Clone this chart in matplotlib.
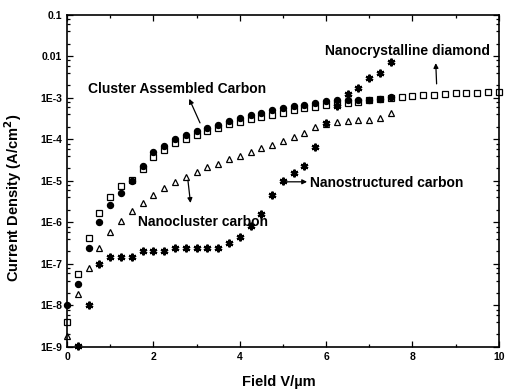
import matplotlib.pyplot as plt
from matplotlib.ticker import FixedLocator, MultipleLocator, LogLocator, NullFormatter
import numpy as np

# field in V/um, current density given as log10(A/cm^2)
x_square = [0, 0.25, 0.5, 0.75, 1.0, 1.25, 1.5, 1.75, 2.0, 2.25, 2.5, 2.75, 3.0, 3.25, 3.5,
            3.75, 4.0, 4.25, 4.5, 4.75, 5.0, 5.25, 5.5, 5.75, 6.0, 6.25, 6.5, 6.75, 7.0, 7.25,
            7.5, 7.75, 8.0, 8.25, 8.5, 8.75, 9.0, 9.25, 9.5, 9.75, 10.0]
log_square = [-8.4, -7.25, -6.37, -5.76, -5.38, -5.12, -4.98, -4.7, -4.43, -4.25, -4.08, -3.98,
              -3.88, -3.8, -3.72, -3.63, -3.57, -3.51, -3.46, -3.41, -3.35, -3.29, -3.25, -3.21,
              -3.17, -3.13, -3.11, -3.09, -3.06, -3.03, -3.0, -2.97, -2.95, -2.93, -2.92, -2.9,
              -2.89, -2.88, -2.87, -2.86, -2.85]

x_circle = [0, 0.25, 0.5, 0.75, 1.0, 1.25, 1.5, 1.75, 2.0, 2.25, 2.5, 2.75, 3.0, 3.25, 3.5,
            3.75, 4.0, 4.25, 4.5, 4.75, 5.0, 5.25, 5.5, 5.75, 6.0, 6.25, 6.5, 6.75, 7.0, 7.25, 7.5]
log_circle = [-8.0, -7.48, -6.62, -6.0, -5.59, -5.28, -4.99, -4.64, -4.3, -4.15, -4.0, -3.9,
              -3.8, -3.72, -3.64, -3.55, -3.48, -3.42, -3.36, -3.3, -3.25, -3.2, -3.16, -3.12,
              -3.08, -3.06, -3.05, -3.04, -3.04, -3.02, -2.97]

x_triangle = [0, 0.25, 0.5, 0.75, 1.0, 1.25, 1.5, 1.75, 2.0, 2.25, 2.5, 2.75, 3.0, 3.25, 3.5,
              3.75, 4.0, 4.25, 4.5, 4.75, 5.0, 5.25, 5.5, 5.75, 6.0, 6.25, 6.5, 6.75, 7.0, 7.25, 7.5]
log_triangle = [-8.73, -7.73, -7.1, -6.61, -6.24, -5.96, -5.72, -5.52, -5.34, -5.18, -5.03, -4.91,
                -4.79, -4.67, -4.58, -4.48, -4.39, -4.29, -4.21, -4.13, -4.03, -3.93, -3.85, -3.7,
                -3.62, -3.58, -3.55, -3.53, -3.52, -3.49, -3.36]

x_star = [0.25, 0.5, 0.75, 1.0, 1.25, 1.5, 1.75, 2.0, 2.25, 2.5, 2.75, 3.0, 3.25, 3.5, 3.75,
          4.0, 4.25, 4.5, 4.75, 5.0, 5.25, 5.5, 5.75, 6.0, 6.25, 6.5, 6.75, 7.0, 7.25, 7.5]
log_star = [-8.97, -8.0, -7.0, -6.82, -6.82, -6.82, -6.69, -6.69, -6.69, -6.62, -6.62, -6.62,
            -6.62, -6.62, -6.5, -6.34, -6.08, -5.8, -5.34, -4.99, -4.8, -4.64, -4.19, -3.61,
            -3.2, -2.9, -2.75, -2.53, -2.4, -2.13]

y_ticks = [1e-9, 1e-8, 1e-7, 1e-6, 1e-5, 1e-4, 1e-3, 1e-2, 1e-1]
y_tick_labels = ["1E-9", "1E-8", "1E-7", "1E-6", "1E-5", "1E-4", "1E-3", "0.01", "0.1"]
x_ticks = [0, 2, 4, 6, 8, 10]

plt.rcParams['font.family'] = ['Liberation Sans', 'DejaVu Sans']

fig = plt.figure(figsize=(5.05, 3.89), dpi=100)
ax = fig.add_axes([0.1327, 0.108, 0.855, 0.8535])

ax.plot(x_square, 10 ** np.array(log_square), 's', mfc='white', mec='black', ms=4.2, mew=0.9, clip_on=False)
ax.plot(x_circle, 10 ** np.array(log_circle), 'o', color='black', ms=4.3, clip_on=False)
ax.plot(x_triangle, 10 ** np.array(log_triangle), '^', mfc='white', mec='black', ms=5, mew=0.9, clip_on=False)
ax.plot(x_star, 10 ** np.array(log_star), marker=(6, 2, 0), ls='none', color='black', ms=5.5, mew=1.6, clip_on=False)

ax.set_yscale('log')
ax.set_xlim(0, 10)
ax.set_ylim(1e-9, 0.1)
ax.yaxis.set_major_locator(FixedLocator(y_ticks))
ax.set_yticklabels(y_tick_labels)
ax.yaxis.set_minor_locator(LogLocator(base=10, subs=(2, 4, 6, 8)))
ax.yaxis.set_minor_formatter(NullFormatter())
ax.set_xticks(x_ticks)
ax.xaxis.set_minor_locator(MultipleLocator(1))

ax.tick_params(which='both', direction='in', top=True, right=True, labelsize=7.5, width=0.9)
ax.tick_params(which='major', length=4)
ax.tick_params(which='minor', length=2.5)
for lbl in ax.get_xticklabels() + ax.get_yticklabels():
    lbl.set_fontweight('bold')
for s in ax.spines.values():
    s.set_linewidth(1.2)

ax.set_xlabel("Field V/\u00b5m", fontsize=10.5, fontweight='bold')
ax.set_ylabel("Current Density (A/cm$^\\mathbf{2}$)", fontsize=10.5, fontweight='bold')
ax.xaxis.set_label_coords(0.49, -0.085)
ax.yaxis.set_label_coords(-0.10, 0.45)

txt = dict(fontsize=10, fontweight='bold')
arrow = dict(arrowstyle='-|>', color='black', lw=0.9, mutation_scale=7, shrinkA=0, shrinkB=0)
ax.text(0.48, 10 ** -2.78, "Cluster Assembled Carbon", va='center', **txt)
ax.annotate('', xy=(2.83, 10 ** -3.02), xytext=(3.08, 10 ** -3.6), arrowprops=arrow)
ax.text(5.98, 10 ** -1.88, "Nanocrystalline diamond", va='center', **txt)
ax.annotate('', xy=(8.54, 10 ** -2.16), xytext=(8.56, 10 ** -2.66), arrowprops=arrow)
ax.text(1.65, 10 ** -5.98, "Nanocluster carbon", va='center', **txt)
ax.annotate('', xy=(2.86, 10 ** -5.53), xytext=(2.8, 10 ** -4.98), arrowprops=arrow)
ax.text(5.62, 10 ** -5.05, "Nanostructured carbon", va='center', **txt)
ax.annotate('', xy=(5.56, 10 ** -5.02), xytext=(5.04, 10 ** -5.02), arrowprops=arrow)

fig.savefig("out.png", dpi=100)
